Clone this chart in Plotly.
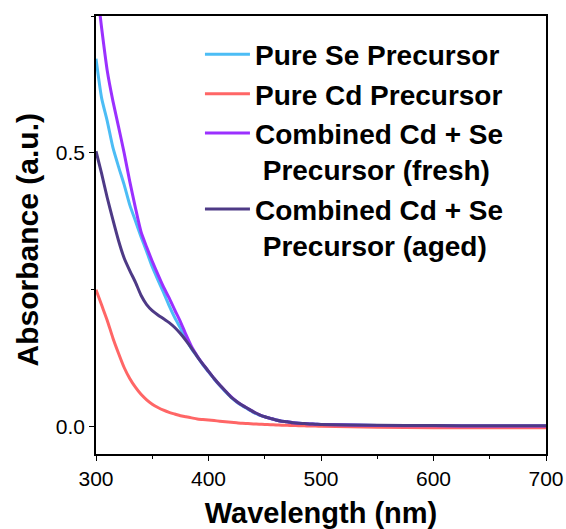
import plotly.graph_objects as go

# Wavelength grid (nm)
wavelength = [300, 305, 310, 315, 320, 325, 330, 335, 340, 345,
              350, 355, 360, 365, 370, 375, 380, 385, 390, 395,
              400, 405, 410, 415, 420, 425, 430, 435, 440, 445,
              450, 455, 460, 465, 470, 475, 480, 485, 490, 495,
              500, 550, 600, 650, 700]

# Absorbance spectra (a.u.)
pure_se = [0.672, 0.600, 0.558, 0.510, 0.475, 0.442, 0.405, 0.376, 0.347, 0.320,
           0.292, 0.268, 0.245, 0.221, 0.199, 0.180, 0.160, 0.142, 0.128, 0.113,
           0.100, 0.087, 0.075, 0.064, 0.054, 0.045, 0.038, 0.032, 0.026, 0.021,
           0.018, 0.015, 0.012, 0.010, 0.009, 0.007, 0.006, 0.0055, 0.005, 0.0045,
           0.004, 0.002, 0.0015, 0.001, 0.001]

pure_cd = [0.250, 0.222, 0.194, 0.162, 0.134, 0.108, 0.088, 0.072, 0.059, 0.049,
           0.041, 0.035, 0.030, 0.026, 0.023, 0.020, 0.018, 0.016, 0.014, 0.013,
           0.012, 0.011, 0.010, 0.009, 0.008, 0.007, 0.006, 0.0055, 0.005, 0.0045,
           0.004, 0.0035, 0.003, 0.0027, 0.0024, 0.002, 0.0018, 0.0015, 0.0012, 0.001,
           0.0008, -0.001, -0.002, -0.002, -0.002]

combined_fresh = [0.815, 0.728, 0.650, 0.595, 0.548, 0.500, 0.448, 0.400, 0.356, 0.328,
                  0.302, 0.278, 0.255, 0.235, 0.213, 0.192, 0.168, 0.146, 0.129, 0.114,
                  0.101, 0.088, 0.076, 0.065, 0.055, 0.046, 0.039, 0.033, 0.027, 0.022,
                  0.018, 0.015, 0.012, 0.010, 0.009, 0.007, 0.006, 0.0055, 0.005, 0.0045,
                  0.004, 0.002, 0.0015, 0.001, 0.001]

combined_aged = [0.503, 0.462, 0.418, 0.378, 0.340, 0.308, 0.285, 0.264, 0.240, 0.223,
                 0.212, 0.204, 0.197, 0.190, 0.181, 0.170, 0.157, 0.143, 0.128, 0.114,
                 0.101, 0.088, 0.076, 0.065, 0.054, 0.046, 0.039, 0.033, 0.027, 0.022,
                 0.018, 0.015, 0.012, 0.010, 0.009, 0.007, 0.006, 0.0055, 0.005, 0.0045,
                 0.004, 0.0025, 0.002, 0.0015, 0.0015]

series_names = ["Pure Se Precursor",
                "Pure Cd Precursor",
                "Combined Cd + Se<br> Precursor (fresh)",
                "Combined Cd + Se<br> Precursor (aged)"]
series_colors = ["#4CBDF5", "#FF6666", "#9B30FF", "#4E3A86"]
series_values = [pure_se, pure_cd, combined_fresh, combined_aged]

FONT = "Liberation Sans, Arial, sans-serif"

fig = go.Figure()
for name, color, vals in zip(series_names, series_colors, series_values):
    fig.add_trace(go.Scatter(
        x=wavelength, y=vals, mode="lines", name=name,
        line=dict(color=color, width=3, shape="spline", smoothing=0.6),
    ))

axis_common = dict(
    showline=True, linecolor="black", linewidth=1.5, mirror=True,
    showgrid=False, zeroline=False, automargin=False,
    ticks="outside", ticklen=5, tickwidth=1.2, tickcolor="black",
    tickfont=dict(family=FONT, size=21, color="black"),
)

fig.update_xaxes(
    range=[300, 700], dtick=100, tick0=300,
    minor=dict(ticks="outside", ticklen=3, tickwidth=1.2, tickcolor="black", dtick=50),
    title=dict(text="<b>Wavelength (nm)</b>",
               font=dict(family=FONT, size=29, color="black"), standoff=15),
    **axis_common,
)
fig.update_yaxes(
    range=[-0.05, 0.75], dtick=0.5, tick0=0, tickformat=".1f",
    minor=dict(ticks="outside", ticklen=3, tickwidth=1.2, tickcolor="black", dtick=0.25),
    **axis_common,
)

# Y-axis label
fig.add_annotation(
    text="<b>Absorbance (a.u.)</b>", textangle=-90,
    xref="paper", yref="paper", x=-0.152, y=0.489,
    xanchor="center", yanchor="middle", showarrow=False,
    font=dict(family=FONT, size=30, color="black"),
)

fig.update_layout(
    width=566, height=529,
    margin=dict(l=96, r=20, t=16, b=75),
    plot_bgcolor="white", paper_bgcolor="white",
    showlegend=True,
    legend=dict(
        x=0.231, y=0.969, xanchor="left", yanchor="top",
        bgcolor="rgba(0,0,0,0)", borderwidth=0,
        font=dict(family=FONT, size=28, color="black", weight="bold"),
        valign="top", tracegroupgap=0, itemwidth=45,
    ),
)

fig.write_html("out.html")
